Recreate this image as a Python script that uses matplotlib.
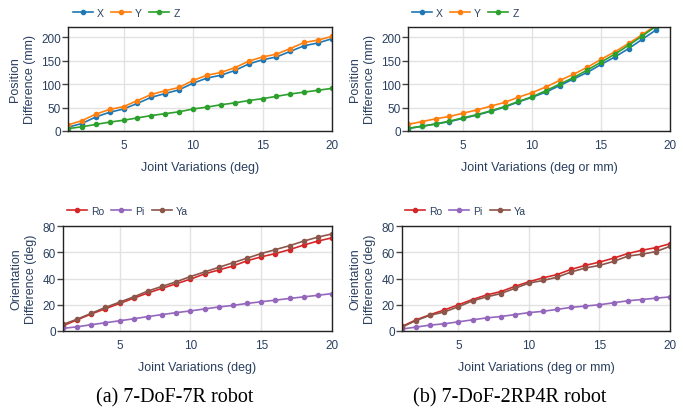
import matplotlib.pyplot as plt
import numpy as np

# joint variation steps
steps = np.arange(1, 21)

# (a) 7-DoF-7R robot
pos_x_a = [8, 16, 30, 40, 47, 59, 72, 80, 88, 102, 113, 119, 129, 143, 152, 158, 170, 182, 188, 197]
pos_y_a = [13, 22, 36, 46, 52, 65, 78, 86, 93, 108, 119, 125, 135, 149, 158, 164, 176, 189, 194, 202]
pos_z_a = [5, 9, 14, 19, 23, 28, 33, 37, 41, 47, 51, 56, 60, 65, 69, 74, 79, 83, 87, 91]
ori_ro_a = [4, 8.5, 13, 17, 21, 25, 29, 32.5, 36, 39.5, 43.5, 46.5, 49.5, 53.5, 56.5, 59, 62, 65.5, 68.5, 71]
ori_pi_a = [2, 3.2, 4.8, 6.3, 7.8, 9.3, 11, 12.5, 14, 15.3, 16.8, 18.3, 19.5, 21, 22.3, 23.5, 24.8, 26, 27.2, 28.5]
ori_ya_a = [5, 9, 13.5, 18, 22, 26, 30.5, 34, 37.5, 41.5, 45, 48.5, 52, 55.5, 59, 62, 65, 68.5, 71.5, 74]

# (b) 7-DoF-2RP4R robot
pos_x_b = [5, 10, 15, 20, 27, 34, 42, 51, 62, 72, 83, 97, 111, 125, 142, 158, 176, 196, 216, 240]
pos_y_b = [14, 20, 26, 31, 38, 45, 53, 61, 72, 82, 94, 108, 121, 136, 153, 169, 187, 206, 226, 248]
pos_z_b = [6, 10, 15, 21, 28, 35, 43, 52, 63, 73, 86, 100, 114, 130, 147, 164, 183, 203, 224, 245]
ori_ro_b = [3.5, 8.5, 12.5, 16, 20, 24, 27.5, 30, 34, 37.5, 40.5, 43, 47, 50, 52.5, 55.5, 59, 61.5, 63.5, 66.5]
ori_pi_b = [1.5, 3, 4.5, 5.5, 7, 8.5, 10, 11, 12.5, 14, 15, 16.5, 18, 19, 20, 21.5, 23, 24, 25, 26]
ori_ya_b = [3, 8, 12, 14.5, 18.5, 23, 26, 28.5, 32.5, 36.5, 38.5, 41, 45, 48, 50, 53, 57, 58.5, 60.5, 64.5]

pos_labels = ['X', 'Y', 'Z']
ori_labels = ['Ro', 'Pi', 'Ya']
pos_colors = ['#1f77b4', '#ff7f0e', '#2ca02c']
ori_colors = ['#d62728', '#9467bd', '#8c564b']

TXT = '#2a3f5f'
plt.rcParams['font.family'] = ['Liberation Sans', 'DejaVu Sans']

W, H = 683, 410
fig = plt.figure(figsize=(W / 100, H / 100), dpi=100)


def px_axes(x0, x1, ytop, ybot):
    return fig.add_axes([x0 / W, 1 - ybot / H, (x1 - x0) / W, (ybot - ytop) / H])


def panel(ax, series, labels, colors, ylim, yticks, ylabel, xlabel, leg_x, leg_y):
    for vals, lab, col in zip(series, labels, colors):
        ax.plot(steps, vals, color=col, lw=1.2, marker='o', ms=3, label=lab)
    ax.set_xlim(1, 20)
    ax.set_ylim(*ylim)
    ax.set_xticks([5, 10, 15, 20])
    ax.set_yticks(yticks)
    ax.grid(True, color='#e2e2e2', lw=1)
    ax.set_axisbelow(True)
    for s in ax.spines.values():
        s.set_color('#222222')
        s.set_linewidth(1)
    ax.tick_params(axis='x', length=0, pad=6, labelsize=8.5, labelcolor=TXT)
    ax.tick_params(axis='y', length=4, width=1, color='#444444', pad=1, labelsize=8.5, labelcolor=TXT)
    ax.set_xlabel(xlabel, fontsize=9, color=TXT, labelpad=7)
    ax.set_ylabel(ylabel, fontsize=9, color=TXT, labelpad=4, linespacing=1.3)
    ax.legend(loc='center left', bbox_to_anchor=(leg_x / W, 1 - leg_y / H), bbox_transform=fig.transFigure,
              ncol=3, frameon=False, fontsize=7.5, handlelength=1.9, handletextpad=0.4,
              columnspacing=0.7, labelcolor=TXT, borderaxespad=0, borderpad=0)


ax1 = px_axes(68, 332, 28, 132)
panel(ax1, [pos_x_a, pos_y_a, pos_z_a], pos_labels, pos_colors, (0, 222), [0, 50, 100, 150, 200],
      'Position\nDifference (mm)', 'Joint Variations (deg)', 73, 14)
ax2 = px_axes(408, 670, 28, 132)
panel(ax2, [pos_x_b, pos_y_b, pos_z_b], pos_labels, pos_colors, (0, 222), [0, 50, 100, 150, 200],
      'Position\nDifference (mm)', 'Joint Variations (deg or mm)', 412, 14)
ax3 = px_axes(63, 332, 227, 332)
panel(ax3, [ori_ro_a, ori_pi_a, ori_ya_a], ori_labels, ori_colors, (0, 80), [0, 20, 40, 60, 80],
      'Orientation\nDifference (deg)', 'Joint Variations (deg)', 67, 212)
ax4 = px_axes(402, 670, 227, 332)
panel(ax4, [ori_ro_b, ori_pi_b, ori_ya_b], ori_labels, ori_colors, (0, 80), [0, 20, 40, 60, 80],
      'Orientation\nDifference (deg)', 'Joint Variations (deg or mm)', 405, 212)

fig.text(175 / W, 1 - 398 / H, '(a) 7-DoF-7R robot', ha='center', va='center',
         family='Liberation Serif', fontsize=14.5, color='black')
fig.text(510 / W, 1 - 398 / H, '(b) 7-DoF-2RP4R robot', ha='center', va='center',
         family='Liberation Serif', fontsize=14.5, color='black')

fig.savefig('out.png', dpi=100)
